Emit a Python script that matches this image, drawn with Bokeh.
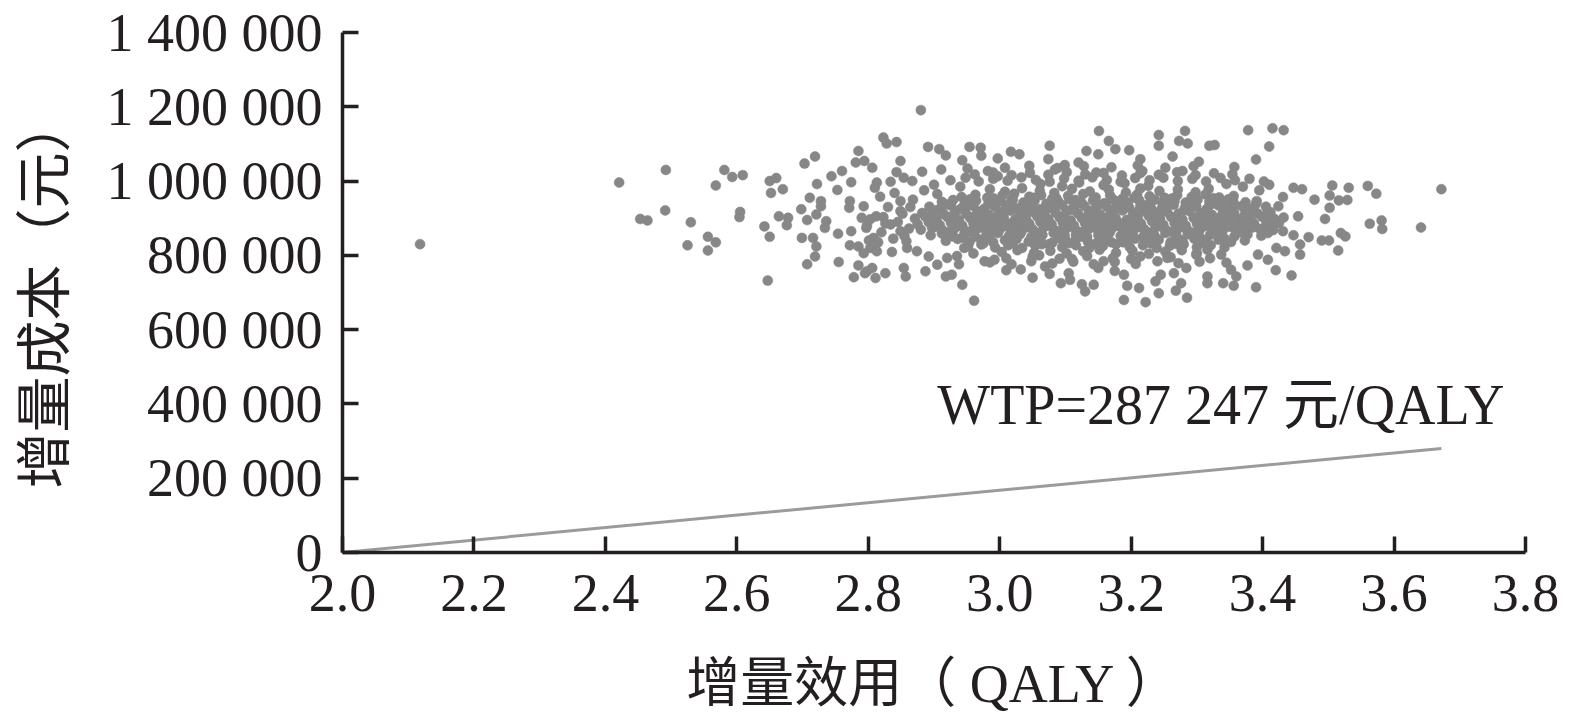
from bokeh.plotting import figure
from bokeh.models import Range1d, FixedTicker, Label, ColumnDataSource
from bokeh.embed import file_html
from bokeh.resources import INLINE

# ---------------- data (incremental QALY, incremental cost in thousand yuan) ----------------
x_ticks = [2.0, 2.2, 2.4, 2.6, 2.8, 3.0, 3.2, 3.4, 3.6, 3.8]
x_tick_labels = ["2.0", "2.2", "2.4", "2.6", "2.8", "3.0", "3.2", "3.4", "3.6", "3.8"]
y_ticks = [0, 200000, 400000, 600000, 800000, 1000000, 1200000, 1400000]
y_tick_labels = ["0", "200 000", "400 000", "600 000", "800 000",
                 "1 000 000", "1 200 000", "1 400 000"]

wtp_x = [2.0, 3.672]
wtp_y = [0, 280000]
wtp_text = "WTP=287 247 元/QALY"

pts_left = [
    (2.118, 830), (2.421, 996), (2.492, 1030), (2.453, 898), (2.464, 894), (2.491, 921),
    (2.530, 889), (2.525, 827), (2.556, 850), (2.568, 835), (2.556, 813), (2.568, 988),
    (2.581, 1030), (2.593, 1011), (2.609, 1016), (2.605, 917), (2.604, 903), (2.647, 732),
    (2.642, 878), (2.650, 850), (2.650, 1000), (2.660, 1008), (2.652, 968), (2.670, 978),
    (2.664, 905), (2.678, 901), (2.676, 881), (2.703, 1047), (2.719, 1066), (2.698, 924),
    (2.711, 955), (2.722, 992), (2.707, 895), (2.721, 910), (2.699, 847), (2.716, 847),
    (2.721, 824), (2.719, 797), (2.707, 776), (2.728, 946), (2.728, 932), (2.736, 892),
    (2.734, 874), (2.754, 858), (2.755, 782), (2.744, 1013), (2.760, 1027), (2.774, 997),
    (2.753, 976), (2.785, 1081), (2.781, 1050), (2.794, 1054), (2.806, 1036), (2.823, 1117),
    (2.843, 1105), (2.828, 1101), (2.772, 946), (2.771, 928), (2.793, 932), (2.774, 865),
    (2.772, 827), (2.785, 824), (2.793, 806), (2.803, 820), (2.813, 811), (2.808, 847),
    (2.797, 874), (2.803, 897), (2.790, 901), (2.785, 773), (2.778, 741), (2.795, 752),
    (2.806, 766), (2.811, 739), (2.826, 752), (2.836, 809), (2.823, 903), (2.834, 883),
    (2.834, 998), (2.843, 1024), (2.849, 946), (2.849, 919), (2.849, 865), (2.849, 1054),
    (2.813, 996), (2.810, 982), (2.798, 880), (2.812, 905), (2.820, 862), (2.830, 930),
    (2.838, 845), (2.845, 890), (2.852, 912), (2.858, 838), (2.862, 872), (2.868, 950),
    (2.818, 958), (2.840, 968), (2.826, 886), (2.855, 852), (2.864, 930), (2.801, 840),
    (2.815, 835),
]

pts_upper = [
    (2.854, 1009), (2.867, 1000), (2.882, 1025), (2.891, 1092), (2.908, 1086), (2.918, 1069),
    (2.911, 1031), (2.943, 1056), (2.951, 1034), (2.954, 1092), (2.971, 1090), (2.972, 1068),
    (2.997, 1061), (3.017, 1079), (3.030, 1072), (2.982, 1027), (2.997, 1013), (3.076, 1095),
    (3.074, 1059), (3.099, 1043), (3.120, 1050), (3.132, 1081), (3.150, 1072), (3.151, 1135),
    (3.166, 1108), (3.176, 1086), (3.197, 1083), (3.214, 1059), (3.217, 1027), (3.147, 1023),
    (3.084, 1031), (2.880, 1191), (3.242, 1124), (3.242, 1095), (3.378, 1137), (3.415, 1142),
    (3.432, 1137), (3.410, 1093), (3.390, 1058), (3.282, 1135), (3.273, 1108), (3.286, 1101),
    (3.319, 1095), (3.327, 1097), (3.263, 1066), (3.303, 1052), (3.357, 1038), (3.278, 1027),
    (2.900, 990), (2.885, 975), (2.905, 965), (2.940, 985), (3.345, 992), (3.370, 985),
    (3.395, 975), (3.410, 990),
]

pts_lower = [
    (2.961, 678), (2.943, 721), (2.918, 743), (2.927, 748), (2.938, 776), (2.887, 757),
    (2.854, 766), (2.857, 743), (2.798, 757), (2.892, 797), (3.032, 762), (3.093, 725),
    (3.107, 734), (3.130, 703), (3.125, 722), (3.143, 721), (3.189, 680), (3.222, 674),
    (3.212, 712), (3.194, 718), (3.189, 748), (3.237, 730), (3.150, 766), (3.158, 784),
    (3.076, 750), (3.069, 770), (2.992, 788), (2.977, 784), (2.946, 820), (2.920, 793),
    (2.859, 820), (2.874, 811), (2.935, 798), (2.960, 805), (3.010, 792), (3.060, 800),
    (3.110, 790), (3.200, 790), (3.260, 795), (3.320, 792), (3.345, 780), (3.010, 760),
    (3.105, 752), (3.175, 758), (3.265, 752), (3.050, 740), (2.905, 775),
]

pts_right = [
    (3.672, 978), (3.641, 875), (3.581, 894), (3.582, 871), (3.563, 885), (3.560, 987),
    (3.573, 966), (3.531, 982), (3.506, 988), (3.502, 961), (3.516, 948), (3.529, 949),
    (3.502, 928), (3.495, 898), (3.479, 950), (3.519, 860), (3.526, 851), (3.490, 840),
    (3.501, 840), (3.515, 813), (3.470, 849), (3.457, 802), (3.444, 746), (3.420, 760),
    (3.454, 905), (3.447, 982), (3.460, 978), (3.431, 957), (3.424, 932), (3.390, 714),
    (3.377, 773), (3.356, 718), (3.340, 725), (3.316, 743), (3.316, 725), (3.285, 686),
    (3.276, 725), (3.268, 705), (3.242, 698), (3.352, 761), (3.360, 743), (3.406, 885),
    (3.408, 860), (3.420, 885), (3.431, 865), (3.421, 820), (3.434, 811), (3.447, 854),
    (3.457, 829), (3.393, 802), (3.408, 788), (3.316, 815), (3.337, 802), (3.299, 802),
    (3.284, 766), (3.245, 748),
]

pts_core_top = [
    (3.008, 1036), (3.045, 1041), (3.088, 1035), (3.128, 1040), (3.170, 1037), (3.210, 1042),
    (3.252, 1036), (3.295, 1040),
    (2.962, 1018), (2.990, 1023), (3.018, 1016), (3.046, 1022), (3.074, 1017), (3.102, 1024),
    (3.130, 1018), (3.158, 1022), (3.186, 1015), (3.214, 1021), (3.242, 1017), (3.270, 1024),
    (3.298, 1016), (3.326, 1021), (3.354, 1018),
    (2.925, 1002), (2.948, 1009), (2.968, 999), (2.990, 1006), (3.012, 1001), (3.033, 1010),
    (3.055, 1003), (3.076, 998), (3.098, 1007), (3.120, 1001), (3.141, 1010), (3.163, 1003),
    (3.184, 998), (3.206, 1008), (3.228, 1002), (3.249, 1009), (3.271, 1000), (3.293, 1006),
    (3.314, 999), (3.336, 1008), (3.358, 1002), (3.380, 1006), (3.402, 999),
    (3.062, 992), (3.095, 986), (3.121, 996), (3.158, 989), (3.190, 994), (3.226, 987),
    (2.985, 978), (3.008, 971), (3.034, 981), (3.061, 974), (3.083, 968), (3.110, 979),
    (3.137, 972), (3.166, 977), (3.192, 969), (3.214, 980), (3.243, 973), (3.271, 977),
    (3.298, 970), (3.318, 979),
    (2.942, 957), (2.963, 963), (2.981, 955), (3.004, 961), (3.022, 966), (3.045, 958),
    (3.063, 962), (3.086, 954), (3.104, 960), (3.127, 965), (3.146, 956), (3.168, 961),
    (3.187, 953), (3.209, 964), (3.228, 959), (3.251, 955), (3.270, 962), (3.292, 957),
    (3.313, 964), (3.334, 956), (3.356, 960),
    (2.912, 944), (2.929, 949), (2.947, 941), (2.964, 947), (2.983, 940), (3.001, 946),
    (3.018, 950), (3.036, 942), (3.053, 947), (3.071, 939), (3.089, 945), (3.106, 951),
    (3.124, 943), (3.142, 948), (3.159, 940), (3.177, 946), (3.195, 942), (3.212, 949),
    (3.230, 944), (3.248, 939), (3.266, 947), (3.283, 942), (3.301, 950), (3.319, 944),
    (3.337, 940), (3.355, 948), (3.374, 943), (3.391, 946),
]

pts_core_mid = [
    (2.893, 931), (2.910, 926), (2.926, 934), (2.943, 928), (2.960, 933), (2.976, 925),
    (2.993, 930), (3.011, 935), (3.027, 927), (3.044, 932), (3.061, 924), (3.078, 930),
    (3.095, 935), (3.112, 928), (3.129, 933), (3.146, 926), (3.163, 931), (3.180, 936),
    (3.197, 929), (3.214, 933), (3.231, 925), (3.248, 931), (3.265, 936), (3.282, 928),
    (3.299, 932), (3.316, 926), (3.333, 934), (3.350, 929), (3.368, 932), (3.386, 927),
    (3.405, 931),
    (2.882, 914), (2.899, 919), (2.915, 911), (2.932, 917), (2.949, 912), (2.966, 918),
    (2.983, 910), (3.000, 916), (3.017, 920), (3.034, 912), (3.051, 917), (3.068, 909),
    (3.085, 915), (3.102, 920), (3.119, 913), (3.136, 918), (3.153, 910), (3.170, 916),
    (3.187, 921), (3.204, 913), (3.221, 918), (3.238, 910), (3.255, 916), (3.272, 912),
    (3.289, 919), (3.306, 914), (3.323, 909), (3.340, 917), (3.357, 912), (3.374, 918),
    (3.392, 913), (3.412, 916),
    (2.871, 899), (2.887, 904), (2.904, 896), (2.921, 902), (2.938, 895), (2.955, 901),
    (2.972, 906), (2.989, 898), (3.006, 903), (3.023, 895), (3.040, 900), (3.057, 905),
    (3.074, 897), (3.091, 902), (3.108, 894), (3.125, 900), (3.142, 905), (3.159, 897),
    (3.176, 902), (3.193, 895), (3.210, 901), (3.227, 906), (3.244, 898), (3.261, 903),
    (3.278, 896), (3.295, 901), (3.312, 905), (3.329, 897), (3.346, 902), (3.363, 895),
    (3.381, 900), (3.399, 904), (3.418, 898), (3.432, 902),
    (2.875, 884), (2.892, 889), (2.909, 881), (2.926, 887), (2.943, 880), (2.960, 886),
    (2.977, 890), (2.994, 882), (3.011, 887), (3.028, 879), (3.045, 885), (3.062, 890),
    (3.079, 883), (3.096, 888), (3.113, 880), (3.130, 886), (3.147, 891), (3.164, 883),
    (3.181, 888), (3.198, 880), (3.215, 886), (3.232, 891), (3.249, 882), (3.266, 887),
    (3.283, 880), (3.300, 885), (3.317, 890), (3.334, 882), (3.351, 887), (3.369, 881),
    (3.387, 886), (3.406, 883), (3.425, 888),
]

pts_core_low = [
    (2.880, 869), (2.897, 874), (2.914, 866), (2.931, 872), (2.948, 865), (2.965, 871),
    (2.982, 875), (2.999, 867), (3.016, 872), (3.033, 864), (3.050, 870), (3.067, 875),
    (3.084, 867), (3.101, 872), (3.118, 865), (3.135, 871), (3.152, 876), (3.169, 868),
    (3.186, 873), (3.203, 865), (3.220, 870), (3.237, 875), (3.254, 867), (3.271, 872),
    (3.288, 865), (3.305, 870), (3.322, 875), (3.339, 867), (3.357, 872), (3.376, 866),
    (3.396, 871), (3.416, 868),
    (2.895, 854), (2.912, 859), (2.929, 851), (2.946, 857), (2.963, 850), (2.980, 856),
    (2.997, 860), (3.014, 852), (3.031, 857), (3.048, 849), (3.065, 855), (3.082, 860),
    (3.099, 852), (3.116, 857), (3.133, 850), (3.150, 855), (3.167, 860), (3.184, 852),
    (3.201, 857), (3.218, 849), (3.235, 855), (3.252, 860), (3.269, 852), (3.286, 857),
    (3.303, 850), (3.320, 855), (3.338, 859), (3.357, 851), (3.377, 856), (3.398, 853),
    (2.918, 839), (2.936, 844), (2.954, 836), (2.972, 842), (2.990, 835), (3.008, 841),
    (3.026, 845), (3.044, 837), (3.062, 842), (3.080, 834), (3.098, 840), (3.116, 845),
    (3.134, 837), (3.152, 842), (3.170, 835), (3.188, 840), (3.206, 845), (3.224, 837),
    (3.242, 842), (3.260, 835), (3.278, 840), (3.296, 845), (3.314, 837), (3.333, 842),
    (3.352, 836), (3.373, 840),
    (2.952, 824), (2.972, 829), (2.993, 821), (3.013, 827), (3.034, 820), (3.054, 826),
    (3.075, 830), (3.095, 822), (3.116, 827), (3.136, 819), (3.157, 825), (3.177, 830),
    (3.198, 822), (3.218, 827), (3.239, 820), (3.259, 826), (3.280, 830), (3.300, 822),
    (3.321, 827), (3.342, 821),
    (3.003, 809), (3.027, 814), (3.052, 806), (3.077, 812), (3.102, 805), (3.127, 811),
    (3.152, 815), (3.177, 807), (3.202, 812), (3.227, 804), (3.252, 810), (3.277, 814),
    (3.300, 806),
    (3.050, 796), (3.091, 791), (3.133, 798), (3.172, 792), (3.214, 797), (3.255, 793),
    (2.985, 781), (3.018, 776), (3.048, 784), (3.080, 778), (3.112, 783), (3.143, 776),
    (3.175, 782), (3.207, 777), (3.240, 784), (3.272, 779), (3.304, 783),
]

pts_core_fill = [
    (2.955, 951), (2.990, 954), (3.020, 950), (3.052, 955), (3.080, 952), (3.115, 949),
    (3.145, 954), (3.172, 951), (3.205, 955), (3.236, 950), (3.262, 953), (3.296, 949),
    (3.325, 954), (3.348, 951),
    (2.920, 937), (2.952, 935), (2.985, 939), (3.015, 936), (3.049, 938), (3.082, 934),
    (3.118, 939), (3.150, 936), (3.186, 938), (3.220, 935), (3.255, 940), (3.290, 936),
    (3.322, 938), (3.358, 935), (3.390, 939),
    (2.905, 922), (2.940, 924), (2.975, 920), (3.008, 923), (3.040, 921), (3.072, 925),
    (3.110, 922), (3.140, 920), (3.175, 924), (3.212, 921), (3.246, 923), (3.280, 920),
    (3.315, 924), (3.349, 921), (3.383, 923),
    (2.895, 907), (2.930, 909), (2.962, 905), (2.997, 908), (3.030, 906), (3.066, 910),
    (3.098, 907), (3.133, 905), (3.168, 909), (3.202, 906), (3.236, 908), (3.270, 905),
    (3.304, 909), (3.338, 907), (3.372, 905), (3.405, 908),
    (2.900, 892), (2.935, 894), (2.968, 890), (3.002, 893), (3.036, 891), (3.070, 895),
    (3.104, 892), (3.138, 890), (3.172, 894), (3.206, 891), (3.240, 893), (3.274, 890),
    (3.308, 894), (3.342, 892), (3.378, 890), (3.414, 893),
    (2.905, 877), (2.940, 879), (2.973, 875), (3.006, 878), (3.042, 876), (3.075, 880),
    (3.110, 877), (3.143, 875), (3.178, 879), (3.212, 876), (3.245, 878), (3.280, 875),
    (3.313, 879), (3.348, 877), (3.385, 875),
    (2.920, 862), (2.955, 864), (2.988, 860), (3.022, 863), (3.057, 861), (3.090, 865),
    (3.125, 862), (3.160, 860), (3.193, 864), (3.228, 861), (3.262, 863), (3.296, 860),
    (3.330, 864), (3.366, 862),
    (2.945, 847), (2.980, 849), (3.016, 845), (3.053, 848), (3.090, 846), (3.124, 850),
    (3.160, 847), (3.196, 845), (3.232, 849), (3.268, 846), (3.305, 848), (3.342, 845),
    (2.975, 832), (3.020, 834), (3.064, 830), (3.106, 833), (3.146, 831), (3.188, 835),
    (3.230, 832), (3.270, 830), (3.310, 834),
]

# ---------------- build ----------------
all_pts = (pts_left + pts_upper + pts_lower + pts_right
           + pts_core_top + pts_core_mid + pts_core_low + pts_core_fill)
src = ColumnDataSource(data=dict(
    qaly=[q for q, c in all_pts],
    cost=[c * 1000 for q, c in all_pts],
))

SERIF = "Liberation Serif, Noto Sans CJK SC"
INK = "#231f20"

p = figure(width=1559, height=722, output_backend="svg", toolbar_location=None,
           x_range=Range1d(2.0, 3.8), y_range=Range1d(0, 1400000),
           min_border_left=342, min_border_right=34, min_border_top=32,
           min_border_bottom=170)
p.outline_line_color = None
p.grid.visible = False

p.line(wtp_x, wtp_y, line_color="#9b9b9b", line_width=3)
p.scatter("qaly", "cost", source=src, size=10, fill_color="#878787",
          line_color="#878787", line_width=0.5)

p.add_layout(Label(x=2.905, y=398000, text=wtp_text, text_font=SERIF,
                   text_font_size="56px", text_color=INK,
                   text_align="left", text_baseline="alphabetic"))

xa = p.xaxis[0]
ya = p.yaxis[0]
xa.ticker = FixedTicker(ticks=x_ticks)
xa.major_label_overrides = {t: s for t, s in zip(x_ticks, x_tick_labels)}
ya.ticker = FixedTicker(ticks=y_ticks)
ya.major_label_overrides = {t: s for t, s in zip(y_ticks, y_tick_labels)}

for ax in (xa, ya):
    ax.axis_line_width = 3.5
    ax.axis_line_color = INK
    ax.major_tick_line_width = 3.5
    ax.major_tick_line_color = INK
    ax.major_tick_in = 16
    ax.major_tick_out = 0
    ax.minor_tick_line_color = None
    ax.major_label_text_font = SERIF
    ax.major_label_text_font_size = "54px"
    ax.major_label_text_color = INK
    ax.axis_label_text_font = SERIF
    ax.axis_label_text_font_style = "normal"
    ax.axis_label_text_color = INK

xa.axis_label = "增量效用（ QALY ）"
xa.axis_label_text_font_size = "54px"
xa.major_label_standoff = 22
xa.axis_label_standoff = 40
ya.axis_label = "增量成本（元）"
ya.axis_label_text_font_size = "56px"
ya.major_label_standoff = 20
ya.axis_label_standoff = 28

open("out.html", "w").write(file_html(p, INLINE))
